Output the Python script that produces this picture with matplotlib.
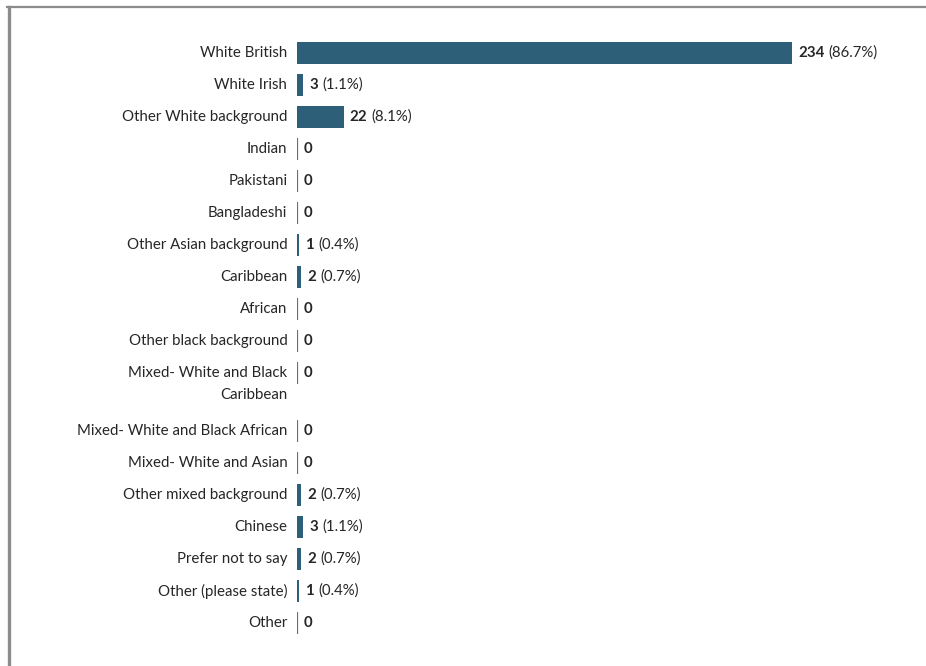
import matplotlib.pyplot as plt
from matplotlib.lines import Line2D

categories = [
    "White British", "White Irish", "Other White background", "Indian",
    "Pakistani", "Bangladeshi", "Other Asian background", "Caribbean",
    "African", "Other black background", "Mixed- White and Black\nCaribbean",
    "Mixed- White and Black African", "Mixed- White and Asian",
    "Other mixed background", "Chinese", "Prefer not to say",
    "Other (please state)", "Other",
]
counts = [234, 3, 22, 0, 0, 0, 1, 2, 0, 0, 0, 0, 0, 2, 3, 2, 1, 0]

BAR = "#2d5f78"
ZERO = "#507791"
TEXT = "#262626"
FS = 10.8
plt.rcParams["font.family"] = ["Lato", "DejaVu Sans"]

W, H = 926, 666
fig = plt.figure(figsize=(W / 100, H / 100), dpi=100)

# rows step by 1, a two-line label pushes the next row down a bit more
extra = 0.8125
ypos = []
y = 0.0
for lab in categories:
    ypos.append(y)
    y += 1 + extra * lab.count("\n")

pitch = 32.0
top = 53.0
ax_left, ax_right = 297 / W, 880 / W
ax = fig.add_axes([ax_left, 0, ax_right - ax_left, 1])
ax.set_ylim((H - top) / pitch, -top / pitch)
ax.set_xlim(0, max(counts) * (880 - 297) / (792 - 297))
ax.axis("off")

total = sum(counts)
ax.barh(ypos, counts, height=0.69, color=BAR, zorder=2)
ax.vlines([0] * len(ypos), [p - 0.33 for p in ypos], [p + 0.33 for p in ypos],
          color=ZERO, lw=1.6, zorder=1)

line_h = 22 / pitch
for lab, p, c in zip(categories, ypos, counts):
    for k, part in enumerate(lab.split("\n")):
        ax.annotate(part, xy=(0, p + k * line_h), xytext=(-7, 0),
                    textcoords="offset points", ha="right", va="center",
                    fontsize=FS, color=TEXT)
    t = ax.annotate(str(c), xy=(c, p), xytext=(4.5, 0),
                    textcoords="offset points", ha="left", va="center",
                    fontsize=FS, fontweight="bold", color=TEXT)
    if c:
        ax.annotate(f"({100 * c / total:.1f}%)", xy=(1, 0), xycoords=t,
                    xytext=(3, 0), textcoords="offset points",
                    ha="left", va="bottom", fontsize=FS, color=TEXT)

# page frame
fig.add_artist(Line2D([7 / W, 1], [1 - 7 / H, 1 - 7 / H],
                      transform=fig.transFigure, color="#8c8c8c", lw=1.6))
fig.add_artist(Line2D([8.5 / W, 8.5 / W], [0, 1 - 7 / H],
                      transform=fig.transFigure, color="#8c8c8c", lw=2.4))

fig.savefig("out.png", dpi=100, facecolor="white")
